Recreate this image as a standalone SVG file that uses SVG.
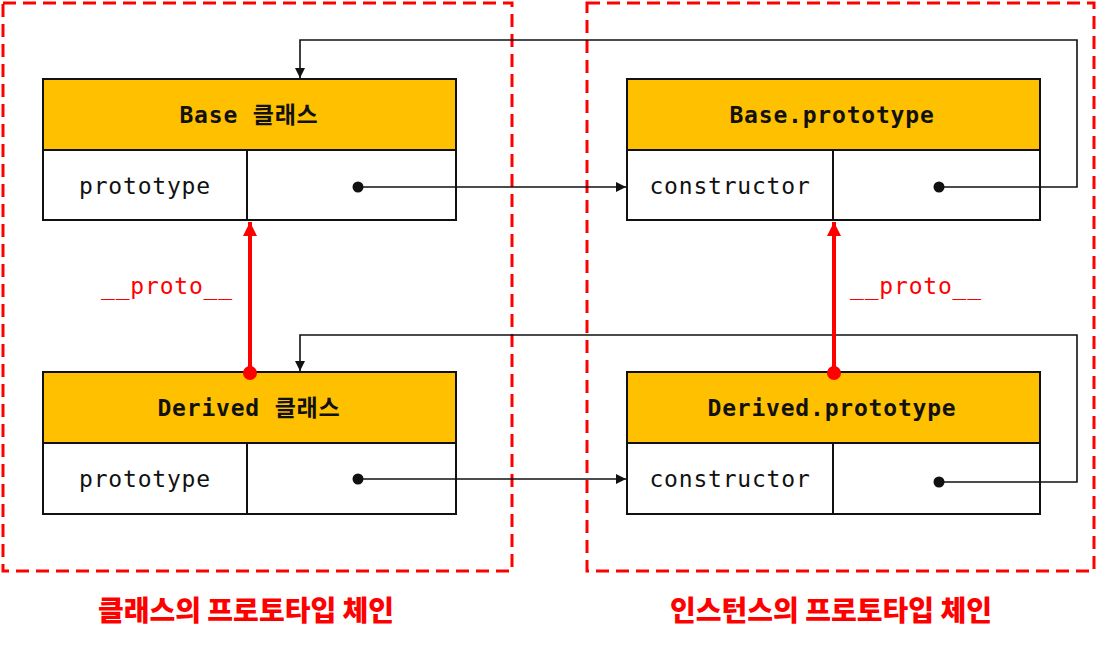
<svg xmlns="http://www.w3.org/2000/svg" width="1097" height="645" viewBox="0 0 1097 645">
<defs>
<style>
.frame{fill:none;stroke:#ff0000;stroke-width:3;stroke-dasharray:13 7}
.hdr{fill:#ffc000;stroke:#111;stroke-width:2}
.row{fill:#fff;stroke:#111;stroke-width:2}
.div{stroke:#111;stroke-width:2}
.mono{font-family:"DejaVu Sans Mono","Liberation Mono","Noto Sans CJK KR",monospace;font-size:23px;letter-spacing:0.8px;text-anchor:middle;dominant-baseline:central;fill:#111}
.bold{font-weight:bold}
.red{fill:#ff0000}
.title{font-family:"Noto Sans CJK KR","Noto Sans",sans-serif;font-size:28px;font-weight:900;fill:#ff0000;text-anchor:middle;dominant-baseline:central}
.link{fill:none;stroke:#111;stroke-width:1.6}
.proto{fill:none;stroke:#ff0000;stroke-width:4}
</style>
<marker id="ah" viewBox="0 0 10 10" refX="10" refY="5" markerWidth="10" markerHeight="10" markerUnits="userSpaceOnUse" orient="auto">
<path d="M0,0 L10,5 L0,10 z" fill="#111"/>
</marker>
<marker id="rh" viewBox="0 0 10 10" refX="10" refY="5" markerWidth="16" markerHeight="14" markerUnits="userSpaceOnUse" orient="auto">
<path d="M0,0 L10,5 L0,10 z" fill="#ff0000"/>
</marker>
</defs>
<rect width="1097" height="645" fill="#fff"/>

<g id="frame-class">
<rect class="frame" x="3" y="3" width="509" height="568"/>
<text class="title" x="246" y="609">클래스의 프로토타입 체인</text>
</g>
<g id="frame-instance">
<rect class="frame" x="587" y="3" width="507" height="568"/>
<text class="title" x="831" y="609">인스턴스의 프로토타입 체인</text>
</g>

<g id="base-class">
<rect class="hdr" x="43" y="79" width="413" height="71"/>
<rect class="row" x="43" y="150" width="413" height="70"/>
<line class="div" x1="247" y1="150" x2="247" y2="220"/>
<text class="mono bold" x="249" y="115">Base 클래스</text>
<text class="mono" x="145" y="186">prototype</text>
</g>

<g id="base-prototype">
<rect class="hdr" x="627" y="79" width="413" height="71"/>
<rect class="row" x="627" y="150" width="413" height="70"/>
<line class="div" x1="833" y1="150" x2="833" y2="220"/>
<text class="mono bold" x="832" y="115">Base.prototype</text>
<text class="mono" x="730" y="186">constructor</text>
</g>

<g id="derived-class">
<rect class="hdr" x="43" y="372" width="413" height="71"/>
<rect class="row" x="43" y="443" width="413" height="71"/>
<line class="div" x1="247" y1="443" x2="247" y2="514"/>
<text class="mono bold" x="249" y="408">Derived 클래스</text>
<text class="mono" x="145" y="479">prototype</text>
</g>

<g id="derived-prototype">
<rect class="hdr" x="627" y="372" width="413" height="71"/>
<rect class="row" x="627" y="443" width="413" height="71"/>
<line class="div" x1="833" y1="443" x2="833" y2="514"/>
<text class="mono bold" x="832" y="408">Derived.prototype</text>
<text class="mono" x="730" y="479">constructor</text>
</g>

<g id="connectors">
<path class="link" d="M358,187 H626" marker-end="url(#ah)"/>
<circle cx="358" cy="187" r="5.5" fill="#111"/>
<path class="link" d="M939,187 H1077 V40 H300 V78" marker-end="url(#ah)"/>
<circle cx="939" cy="187" r="5.5" fill="#111"/>
<path class="link" d="M358,479 H626" marker-end="url(#ah)"/>
<circle cx="358" cy="479" r="5.5" fill="#111"/>
<path class="link" d="M939,482 H1077 V335 H300 V371" marker-end="url(#ah)"/>
<circle cx="939" cy="482" r="5.5" fill="#111"/>
<path class="proto" d="M250,373 V222" marker-end="url(#rh)"/>
<circle cx="250" cy="373" r="7" fill="#ff0000"/>
<path class="proto" d="M834,373 V222" marker-end="url(#rh)"/>
<circle cx="834" cy="373" r="7" fill="#ff0000"/>
<text class="mono red" x="167" y="286">__proto__</text>
<text class="mono red" x="916" y="286">__proto__</text>
</g>
</svg>
